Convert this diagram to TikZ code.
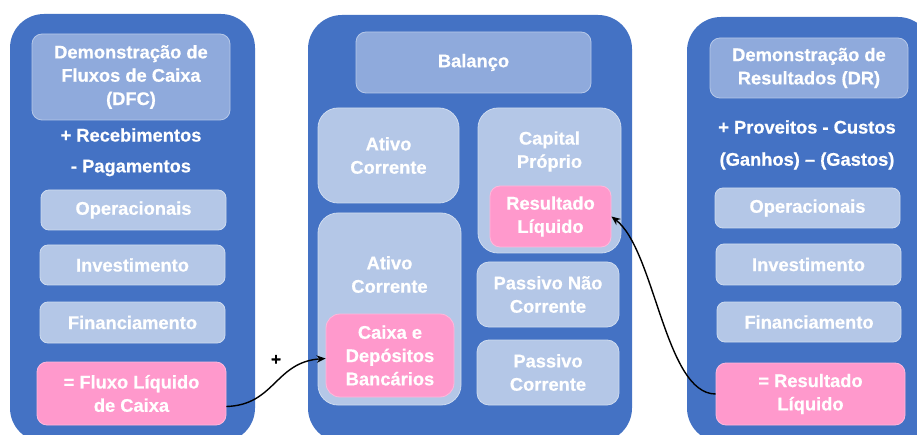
\documentclass[tikz,border=0pt]{standalone}
\usepackage{fontspec}
\setmainfont{Liberation Sans}[BoldFeatures={FakeBold=0.6}]
\usetikzlibrary{arrows.meta}
\definecolor{outerblue}{HTML}{4472C4}
\definecolor{headblue}{HTML}{8FAADC}
\definecolor{subblue}{HTML}{B4C7E7}
\definecolor{pinkbox}{HTML}{FF99CC}
\tikzset{
  txt/.style={text=white,font=\fontsize{18.3}{23.3}\selectfont\bfseries,align=center,inner sep=0pt},
  panel/.style={fill=outerblue,draw=none,rounded corners=34pt,minimum width=#1},
  headbox/.style={txt,fill=headblue,draw=white!35!headblue,line width=0.8pt,rounded corners=10pt},
  subbox/.style={txt,fill=subblue,draw=white!35!subblue,line width=0.8pt,rounded corners=8pt},
  bigbox/.style={subbox,rounded corners=20pt},
  pinkb/.style={txt,fill=pinkbox,draw=white!30!pinkbox,line width=0.8pt,rounded corners=10pt},
  conn/.style={draw=black,line width=1.4pt,-{Stealth[length=9pt,width=7.5pt]}},
  sz/.style 2 args={minimum width=#1,minimum height=#2}
}
\begin{document}
\begin{tikzpicture}[x=1pt,y=-1pt]
\useasboundingbox (0,0) rectangle (917,435);
\clip (0,0) rectangle (917,435);
\fill[white] (0,0) rectangle (917,435);
% panels
\node[panel=245pt,minimum height=428pt] (pL) at (132.5,228) {};
\node[panel=324pt,minimum height=427pt] (pM) at (470,228.5) {};
\node[panel=245pt,minimum height=425pt] (pR) at (809.5,229.5) {};
% left panel
\node[headbox,sz={198pt}{86pt}] (dfc) at (131,77) {Demonstração de\\Fluxos de Caixa\\(DFC)};
\node[txt] (rec) at (131,135) {+ Recebimentos};
\node[txt] (pag) at (131,168) {- Pagamentos};
\node[subbox,sz={185pt}{40pt}] (opL) at (133.5,210) {Operacionais};
\node[subbox,sz={185pt}{40pt}] (invL) at (132.5,265) {Investimento};
\node[subbox,sz={185pt}{41pt}] (finL) at (132.5,322.5) {Financiamento};
\node[pinkb,sz={189pt}{63pt}] (flux) at (131.5,393.5) {= Fluxo Líquido\\de Caixa};
% middle panel
\node[headbox,sz={235pt}{61pt}] (bal) at (473.5,62.5) {Balanço};
\node[bigbox,sz={141pt}{95pt}] (at1) at (388.5,155.5) {Ativo\\Corrente};
\node[bigbox,sz={143pt}{145pt}] (cap) at (549.5,180.5) {};
\node[txt] (captxt) at (549.5,151.5) {Capital\\Próprio};
\node[pinkb,sz={121pt}{61pt}] (resM) at (550.5,216.5) {Resultado\\Líquido};
\node[bigbox,sz={143pt}{192pt}] (at2) at (389.5,309) {};
\node[txt] (at2txt) at (389.5,274.5) {Ativo\\Corrente};
\node[pinkb,sz={128pt}{83pt},rounded corners=14pt] (caixa) at (390,355.5) {Caixa e\\Depósitos\\Bancários};
\node[subbox,sz={142pt}{65pt},rounded corners=12pt] (pnc) at (548,294.5) {Passivo Não\\Corrente};
\node[subbox,sz={142pt}{65pt},rounded corners=12pt] (pc) at (548,372.5) {Passivo\\Corrente};
% right panel
\node[headbox,sz={198pt}{60pt}] (dr) at (809,68) {Demonstração de\\Resultados (DR)};
\node[txt] (prov) at (807,127) {+ Proveitos - Custos};
\node[txt] (gan) at (807,161) {(Ganhos) – (Gastos)};
\node[subbox,sz={185pt}{40pt}] (opR) at (807.5,208) {Operacionais};
\node[subbox,sz={185pt}{41pt}] (invR) at (808.5,264.5) {Investimento};
\node[subbox,sz={184pt}{40pt}] (finR) at (809,322) {Financiamento};
\node[pinkb,sz={189pt}{62pt}] (resR) at (810.5,394) {= Resultado\\Líquido};
% connectors
\draw[conn] ([yshift=-13pt]flux.east) .. controls (275,405) and (275,362) .. ([yshift=-3pt]caixa.west);
\node[font=\fontsize{17}{17}\selectfont\bfseries,inner sep=0pt] (plus) at (276,360) {+};
\draw[conn] (resR.west) .. controls (665,394) and (655,250) .. (resM.east);
\end{tikzpicture}
\end{document}
